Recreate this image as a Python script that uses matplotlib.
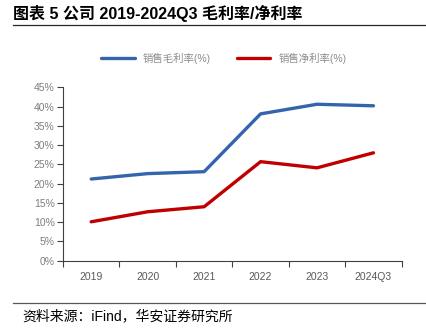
import numpy as np
import matplotlib.pyplot as plt
from matplotlib.ticker import FixedLocator, PercentFormatter

plt.rcParams['font.family'] = ['Liberation Sans', 'Noto Sans CJK SC', 'DejaVu Sans']

years = ["2019", "2020", "2021", "2022", "2023", "2024Q3"]
gross_margin = [21.2, 22.6, 23.1, 38.1, 40.6, 40.2]
net_margin = [10.1, 12.7, 14.0, 25.7, 24.1, 28.0]

fig = plt.figure(figsize=(4.27, 3.29), dpi=100)
ax = fig.add_axes([63 / 427, 1 - 260.7 / 329, (401.7 - 63) / 427, (260.7 - 87.3) / 329])

x = np.arange(len(years))
ax.plot(x, gross_margin, color="#3464AE", lw=2.4, label="销售毛利率(%)", solid_capstyle="round")
ax.plot(x, net_margin, color="#C00000", lw=2.4, label="销售净利率(%)", solid_capstyle="round")

ax.set_xlim(-0.5, len(years) - 0.5)
ax.set_ylim(0, 45)
ax.yaxis.set_major_locator(FixedLocator(np.arange(0, 46, 5)))
ax.yaxis.set_major_formatter(PercentFormatter(decimals=0))

ax.xaxis.set_major_locator(FixedLocator(np.arange(-0.5, len(years), 1)))
ax.xaxis.set_minor_locator(FixedLocator(x))
ax.set_xticklabels([], minor=False)
ax.set_xticklabels(years, minor=True)
ax.tick_params(axis="x", which="major", length=4, width=0.8, color="#404040", direction="out")
ax.tick_params(axis="x", which="minor", length=0, pad=8, labelsize=7.5, labelcolor="#595959")
ax.tick_params(axis="y", length=4, width=0.8, color="#404040", labelsize=7.5, labelcolor="#7f7f7f", pad=2)

for s in ["top", "right"]:
    ax.spines[s].set_visible(False)
for s in ["left", "bottom"]:
    ax.spines[s].set_color("#404040")
    ax.spines[s].set_linewidth(0.8)

leg = fig.legend(loc="center", bbox_to_anchor=(224 / 427, 1 - 58 / 329), ncol=2, frameon=False,
                 fontsize=7.5, handlelength=3.2, columnspacing=2.5, handletextpad=0.8)
for t in leg.get_texts():
    t.set_color("#8c8c8c")

fig.text(13 / 427, 1 - 13 / 329, "图表 5 公司 2019-2024Q3 毛利率/净利率", fontsize=11.5,
         fontweight="bold", va="center", ha="left")
fig.add_artist(plt.Line2D([13 / 427, 1], [1 - 24.5 / 329] * 2, color="#262626", lw=0.9))
fig.add_artist(plt.Line2D([13 / 427, 1], [1 - 302.5 / 329] * 2, color="#595959", lw=0.9))
fig.text(22 / 427, 1 - 316 / 329, "资料来源：iFind，华安证券研究所", fontsize=10, va="center", ha="left")

fig.savefig("out.png", dpi=100)
